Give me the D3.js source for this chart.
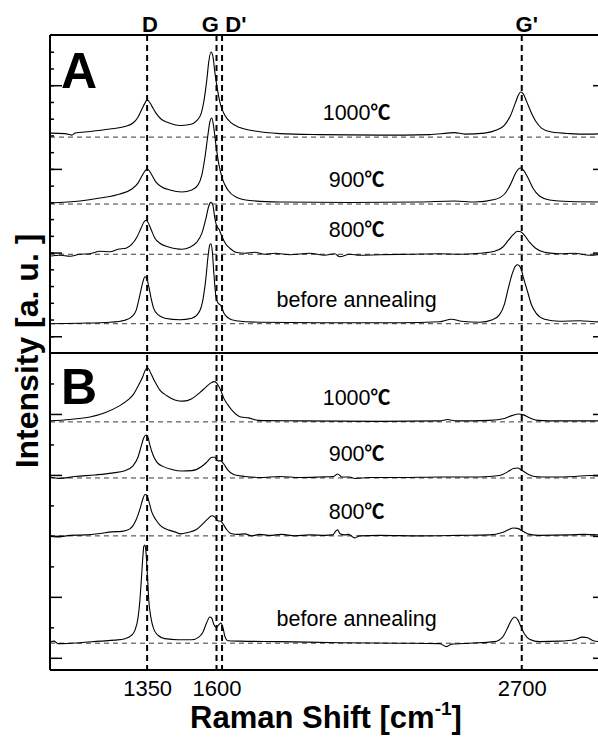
<!DOCTYPE html>
<html>
<head>
<meta charset="utf-8">
<script src="https://cdn.jsdelivr.net/npm/d3@7"></script>
<style>
	body { margin: 0; background: #fff; }
	svg { display: block; font-family: "Liberation Sans", Arial, sans-serif; }
	.spec { fill: none; stroke: #000; stroke-width: 1.1; }
	.base { stroke: #3a3a3a; stroke-width: 1; stroke-dasharray: 5,4; }
	.band { stroke: #000; stroke-width: 2; stroke-dasharray: 6,4; }
	.frame { stroke: #000; stroke-width: 2; }
	.ticks line { stroke: #000; stroke-width: 1.5; }
</style>
</head>
<body>
<svg width="598" height="738"></svg>
<script>
// x ticks and band positions (cm-1)
var shiftTicks = [1350, 1600, 2700];
var bandPos = [1350, 1600, 1620, 2700];
var bandNames = ["D", "G", "D'", "G'"];
var bandLabelPos = [1360, 1578, 1670, 2718];

var sampleNames = ["1000", "900", "800", "before annealing"];
var sampleUnits = ["℃", "℃", "℃", ""];
var offsetsA = [11.9, 7.9, 4.9, 0.75];
var offsetsB = [3.87, 2.95, 2.0, 0.24];

// panel A spectra [shift, intensity above baseline]
var a1000 = [[1000,0.24],[1054,0.21],[1079,0.12],[1090,0.24],[1144,0.33],[1216,0.48],[1270,0.63],[1299,0.84],[1317,1.19],[1331,1.67],[1342,2.03],[1349,2.21],[1356,2.15],[1367,1.85],[1382,1.43],[1400,1.08],[1425,0.87],[1468,0.69],[1504,0.75],[1529,0.99],[1544,1.37],[1554,2.09],[1565,3.4],[1572,4.48],[1580,5.08],[1587,4.84],[1594,3.88],[1605,2.69],[1616,1.85],[1630,1.31],[1652,0.87],[1684,0.57],[1738,0.36],[1828,0.21],[1972,0.15],[2188,0.12],[2368,0.15],[2433,0.24],[2458,0.27],[2494,0.18],[2566,0.24],[2609,0.42],[2638,0.72],[2660,1.31],[2678,2.09],[2688,2.51],[2696,2.69],[2706,2.57],[2717,2.15],[2732,1.55],[2750,0.96],[2771,0.54],[2807,0.3],[2872,0.21],[2944,0.18],[3000,0.21]];
var a900 = [[1000,0.06],[1108,0.18],[1180,0.36],[1252,0.6],[1295,0.9],[1317,1.25],[1331,1.67],[1342,1.97],[1349,2.09],[1356,2.03],[1367,1.73],[1382,1.31],[1403,1.02],[1432,0.84],[1475,0.72],[1511,0.84],[1533,1.13],[1547,1.73],[1558,2.75],[1569,4.12],[1576,4.9],[1583,5.14],[1590,4.6],[1598,3.52],[1609,2.33],[1623,1.43],[1641,0.84],[1670,0.42],[1720,0.21],[1828,0.12],[2080,0.09],[2332,0.12],[2458,0.18],[2530,0.12],[2602,0.27],[2638,0.6],[2660,1.19],[2678,1.85],[2688,2.09],[2696,2.15],[2706,2.03],[2721,1.61],[2740,0.96],[2764,0.48],[2800,0.24],[2872,0.15],[3000,0.12]];
var a800 = [[1000,-0.12],[1036,-0.06],[1072,-0.12],[1108,0],[1144,0.03],[1180,0.18],[1216,0.15],[1245,0.3],[1274,0.36],[1295,0.6],[1313,1.02],[1328,1.55],[1338,1.91],[1346,2.03],[1353,1.91],[1364,1.49],[1378,0.96],[1396,0.66],[1425,0.45],[1454,0.33],[1475,0.3],[1504,0.42],[1529,0.72],[1547,1.25],[1562,2.15],[1572,2.87],[1580,3.1],[1587,2.93],[1594,2.15],[1601,1.67],[1609,1.49],[1619,1.08],[1634,0.6],[1648,0.36],[1670,0.12],[1702,0.06],[1738,0.12],[1774,0],[1810,0.06],[1864,-0.03],[1936,0.06],[1990,-0.06],[2026,0.03],[2044,-0.15],[2080,0],[2116,-0.06],[2188,-0.03],[2296,0],[2404,0.03],[2476,0],[2548,0.06],[2602,0.18],[2631,0.42],[2652,0.84],[2670,1.19],[2685,1.37],[2696,1.34],[2710,1.13],[2728,0.72],[2750,0.36],[2782,0.12],[2836,0.03],[2890,0.06],[2944,-0.06],[3000,0.03]];
var aBefore = [[1000,0],[1108,0.03],[1216,0.09],[1270,0.21],[1295,0.42],[1310,0.78],[1320,1.43],[1328,2.03],[1335,2.51],[1342,2.81],[1349,2.69],[1356,2.21],[1364,1.55],[1374,0.9],[1389,0.54],[1414,0.33],[1468,0.24],[1511,0.33],[1536,0.66],[1551,1.43],[1562,2.75],[1569,3.94],[1576,4.72],[1580,4.78],[1585,4.3],[1590,3.11],[1598,1.61],[1605,1.25],[1616,1.08],[1626,0.66],[1641,0.36],[1670,0.18],[1756,0.09],[1972,0.06],[2260,0.06],[2404,0.12],[2447,0.27],[2483,0.15],[2548,0.09],[2595,0.24],[2620,0.54],[2638,1.19],[2652,2.15],[2667,3.05],[2678,3.46],[2685,3.52],[2696,3.35],[2706,2.75],[2721,1.91],[2735,1.13],[2753,0.6],[2782,0.27],[2836,0.15],[2908,0.18],[2962,0.12],[3000,0.09]];

// panel B spectra
var b1000 = [[1000,0.016],[1072,0.04],[1144,0.08],[1198,0.15],[1245,0.25],[1281,0.36],[1302,0.46],[1320,0.61],[1335,0.75],[1346,0.87],[1353,0.88],[1364,0.79],[1378,0.66],[1396,0.52],[1421,0.43],[1450,0.36],[1479,0.34],[1511,0.38],[1540,0.48],[1562,0.57],[1580,0.64],[1594,0.66],[1605,0.61],[1616,0.51],[1626,0.39],[1641,0.28],[1662,0.16],[1688,0.08],[1716,0.066],[1749,0.025],[1900,0.016],[2188,0.008],[2404,0.016],[2433,0.04],[2462,0.016],[2584,0.025],[2638,0.057],[2667,0.107],[2688,0.13],[2706,0.115],[2728,0.066],[2757,0.025],[2836,0.016],[3000,0.016]];
var b900 = [[1000,0.016],[1036,-0.008],[1090,0.025],[1162,0.05],[1223,0.08],[1270,0.12],[1299,0.2],[1317,0.34],[1328,0.51],[1338,0.66],[1346,0.705],[1353,0.67],[1360,0.54],[1371,0.38],[1385,0.26],[1407,0.19],[1439,0.14],[1475,0.115],[1511,0.12],[1544,0.18],[1565,0.26],[1583,0.34],[1594,0.34],[1605,0.28],[1616,0.28],[1626,0.23],[1641,0.13],[1662,0.057],[1702,0.025],[1756,0.008],[1828,0.025],[1900,0.008],[1972,0.016],[2022,0.025],[2037,0.066],[2051,0.016],[2080,0.016],[2098,-0.008],[2152,0.008],[2260,0.008],[2404,0.016],[2548,0.016],[2620,0.04],[2649,0.1],[2670,0.156],[2685,0.164],[2699,0.13],[2721,0.066],[2746,0.025],[2800,0.016],[2890,0.025],[2944,0.04],[3000,0.025]];
var b800 = [[1000,0],[1029,-0.016],[1072,0.008],[1126,0.016],[1180,0.04],[1223,0.066],[1259,0.074],[1288,0.115],[1310,0.26],[1324,0.44],[1335,0.61],[1342,0.68],[1349,0.67],[1356,0.57],[1367,0.39],[1382,0.26],[1400,0.16],[1425,0.1],[1450,0.066],[1472,0.033],[1497,0.057],[1526,0.1],[1551,0.2],[1569,0.28],[1583,0.33],[1594,0.31],[1605,0.25],[1616,0.24],[1626,0.18],[1637,0.1],[1652,0.04],[1677,0.025],[1702,0.033],[1727,0],[1756,0.025],[1792,0.008],[1835,0.025],[1882,0],[1936,0.016],[1990,0.008],[2019,0.016],[2030,0.08],[2037,0.1],[2044,0.04],[2062,0.016],[2076,0.025],[2098,-0.033],[2116,0],[2188,0.008],[2332,0],[2476,0.008],[2584,0.016],[2627,0.05],[2652,0.1],[2670,0.13],[2685,0.123],[2703,0.08],[2728,0.025],[2764,0.008],[2872,0.016],[2926,0.025],[3000,0.008]];
var bBefore = [[1000,0.016],[1014,0.033],[1029,-0.008],[1043,-0.008],[1108,0.008],[1180,0.033],[1234,0.05],[1270,0.074],[1292,0.123],[1306,0.21],[1317,0.41],[1324,0.705],[1329,1.03],[1335,1.44],[1338,1.59],[1342,1.61],[1346,1.49],[1351,1.12],[1356,0.705],[1364,0.41],[1374,0.23],[1389,0.13],[1414,0.074],[1461,0.057],[1511,0.057],[1536,0.1],[1551,0.18],[1565,0.34],[1576,0.43],[1583,0.41],[1590,0.31],[1599,0.26],[1608,0.3],[1616,0.33],[1623,0.26],[1630,0.115],[1641,0.04],[1684,0.033],[1828,0.025],[2044,0.008],[2260,0],[2404,-0.008],[2429,-0.057],[2447,-0.016],[2512,0],[2602,0.025],[2631,0.1],[2649,0.25],[2663,0.38],[2674,0.43],[2685,0.39],[2696,0.28],[2710,0.15],[2728,0.066],[2764,0.025],[2836,0.033],[2890,0.057],[2919,0.1],[2937,0.09],[2958,0.04],[3000,0.016]];

var svg = d3.select("svg"),
	margin = {top: 35, left: 50},
	width = 555,
	height = 635,
	split = 318,
	g = svg.append("g").attr("transform", "translate(" + margin.left + "," + margin.top + ")");

var x = d3.scaleLinear().domain([1000, 3000]).range([0, width]);
var yA = d3.scaleLinear().domain([-1, 18]).range([split, 0]);
var yB = d3.scaleLinear().domain([-0.2, 5]).range([height, split]);

var panels = [
	{y: yA, offsets: offsetsA, spectra: [a1000, a900, a800, aBefore], letter: "A",
		minor: d3.range(0, 18), major: [0, 5, 10, 15]},
	{y: yB, offsets: offsetsB, spectra: [b1000, b900, b800, bBefore], letter: "B",
		minor: d3.range(0.5, 5, 1), major: [0, 1, 2, 3, 4]}
];

panels.forEach(function (p) {
	// baselines
	g.selectAll(null)
		.data(p.offsets)
		.enter().append("line")
		.attr("class", "base")
		.attr("x1", 0).attr("x2", width)
		.attr("y1", function (d) { return p.y(d); })
		.attr("y2", function (d) { return p.y(d); });

	// spectra
	p.spectra.forEach(function (s, i) {
		var line = d3.line()
			.x(function (d) { return x(d[0]); })
			.y(function (d) { return p.y(p.offsets[i] + d[1]); })
			.curve(d3.curveMonotoneX);
		g.append("path").datum(s).attr("class", "spec").attr("d", line);
	});

	// sample labels
	var lab = g.selectAll(null)
		.data(sampleNames)
		.enter().append("text")
		.attr("x", x(2105))
		.attr("y", function (d, i) { return p.y(p.offsets[i]) - 17; })
		.attr("text-anchor", "middle")
		.attr("font-size", 21.5)
		.text(function (d) { return d; });
	lab.append("tspan")
		.attr("font-family", "'Noto Sans CJK SC', 'DejaVu Sans', sans-serif")
		.attr("font-weight", "bold")
		.attr("font-size", 20)
		.text(function (d, i) { return sampleUnits[i]; });

	// inward ticks, left and right
	g.append("g").attr("class", "ticks")
		.call(d3.axisRight(p.y).tickValues(p.minor).tickSize(4).tickFormat(""))
		.select(".domain").remove();
	g.append("g").attr("class", "ticks")
		.call(d3.axisRight(p.y).tickValues(p.major).tickSize(12).tickFormat(""))
		.select(".domain").remove();
	g.append("g").attr("class", "ticks")
		.attr("transform", "translate(" + width + ",0)")
		.call(d3.axisLeft(p.y).tickValues(p.major).tickSize(12).tickFormat(""))
		.select(".domain").remove();

	g.append("text")
		.attr("x", 11)
		.attr("y", p.y.range()[1] + (p.letter == "A" ? 53 : 51))
		.attr("font-size", 50)
		.attr("font-weight", "bold")
		.text(p.letter);
});

// band lines D, G, D', G'
g.selectAll(".band")
	.data(bandPos)
	.enter().append("line")
	.attr("class", "band")
	.attr("x1", function (d) { return x(d); })
	.attr("x2", function (d) { return x(d); })
	.attr("y1", 0).attr("y2", height);

g.selectAll(null)
	.data(bandNames)
	.enter().append("text")
	.attr("x", function (d, i) { return x(bandLabelPos[i]); })
	.attr("y", -3)
	.attr("text-anchor", "middle")
	.attr("font-size", 22)
	.attr("font-weight", "bold")
	.text(function (d) { return d; });

// frame
g.append("line").attr("class", "frame").attr("x1", 0).attr("x2", width).attr("y1", 0).attr("y2", 0).attr("stroke-width", 1.5);
g.append("line").attr("class", "frame").attr("x1", 0).attr("x2", width).attr("y1", split).attr("y2", split);
g.append("line").attr("class", "frame").attr("x1", 0).attr("x2", width).attr("y1", height).attr("y2", height);
g.append("line").attr("class", "frame").attr("x1", 0).attr("x2", 0).attr("y1", 0).attr("y2", height);
g.append("line").attr("class", "frame").attr("x1", width).attr("x2", width).attr("y1", 0).attr("y2", height);

// x axis labels
var xa = g.append("g")
	.attr("transform", "translate(0," + height + ")")
	.call(d3.axisBottom(x).tickValues(shiftTicks).tickSize(0).tickPadding(10).tickFormat(d3.format("d")));
xa.select(".domain").remove();
xa.selectAll("text")
	.attr("font-family", "'Liberation Sans', Arial, sans-serif")
	.attr("font-size", 22)
	.attr("fill", "#000");

var xt = g.append("text")
	.attr("x", 276)
	.attr("y", height + 58)
	.attr("text-anchor", "middle")
	.attr("font-size", 31)
	.attr("font-weight", "bold")
	.text("Raman Shift [cm");
xt.append("tspan").attr("font-size", 19).attr("dy", -13).text("-1");
xt.append("tspan").attr("dy", 13).text("]");

g.append("text")
	.attr("transform", "translate(-12," + 316 + ") rotate(-90)")
	.attr("text-anchor", "middle")
	.attr("font-size", 32)
	.attr("font-weight", "bold")
	.text("Intensity [a. u. ]");
</script>
</body>
</html>
